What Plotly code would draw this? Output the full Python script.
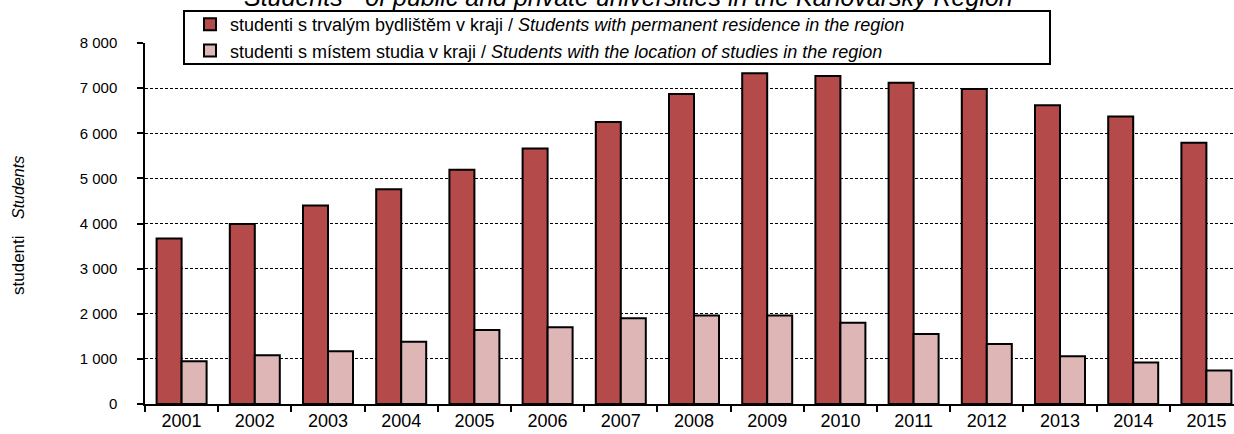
import plotly.graph_objects as go

# data
years = [str(y) for y in range(2001, 2016)]
residence = [3670, 3990, 4400, 4760, 5190, 5660, 6250, 6870, 7330, 7270, 7120, 6980, 6620, 6370, 5790]
study_place = [950, 1080, 1170, 1380, 1640, 1700, 1900, 1960, 1960, 1800, 1550, 1330, 1060, 920, 740]

y_ticks = [0, 1000, 2000, 3000, 4000, 5000, 6000, 7000, 8000]
y_ticktext = ["0", "1\u00a0000", "2\u00a0000", "3\u00a0000", "4\u00a0000",
              "5\u00a0000", "6\u00a0000", "7\u00a0000", "8\u00a0000"]

name_res = "studenti s trvalým bydlištěm v kraji / <i>Students with permanent residence in the region</i>"
name_study = "studenti s místem studia v kraji / <i>Students with the location of studies in the region</i>"
title_en = "<i>Students<sup>1)</sup> of public and private universities in the Karlovarský Region</i>"

FONT = "Arial, Liberation Sans, sans-serif"

fig = go.Figure()
fig.add_trace(go.Bar(
    x=years, y=residence, name=name_res,
    marker=dict(color="#B44A49", line=dict(color="black", width=2)),
))
fig.add_trace(go.Bar(
    x=years, y=study_place, name=name_study,
    marker=dict(color="#DFB6B6", line=dict(color="black", width=2)),
))

# plot area: x 145..1234 px, y 43..404 px (last category runs past the right edge)
plot_w = 1234 - 145
plot_h = 404 - 43
cat_w = 73.2


def px_x(p):
    return (p - 145) / plot_w


def px_y(p):
    return (404 - p) / plot_h


fig.update_layout(
    width=1234,
    height=434,
    margin=dict(l=145, r=0, t=43, b=30),
    paper_bgcolor="white",
    plot_bgcolor="white",
    barmode="group",
    bargap=0.317,
    bargroupgap=0,
    font=dict(family=FONT, size=15, color="black"),
    showlegend=True,
    legend=dict(
        x=px_x(190),
        y=px_y(6),
        xanchor="left",
        yanchor="top",
        bgcolor="rgba(0,0,0,0)",
        borderwidth=0,
        font=dict(family=FONT, size=18),
        tracegroupgap=0,
        traceorder="normal",
    ),
)

# legend frame (white box over the plot, as in the reference)
fig.add_shape(
    type="rect", xref="paper", yref="paper",
    x0=px_x(184), x1=px_x(1050), y0=px_y(64), y1=px_y(11),
    line=dict(color="black", width=2), fillcolor="white", layer="above",
)

fig.update_xaxes(
    type="category",
    range=[-0.5, -0.5 + plot_w / cat_w],
    tickson="boundaries",
    ticks="outside",
    ticklen=6,
    tickwidth=1.5,
    tickcolor="black",
    showline=True,
    linecolor="black",
    linewidth=1.5,
    showgrid=False,
    tickfont=dict(size=18),
)
fig.update_yaxes(
    range=[0, 8000],
    tickvals=y_ticks,
    ticktext=y_ticktext,
    ticks="outside",
    ticklen=6,
    tickwidth=1.5,
    tickcolor="black",
    ticklabelstandoff=17,
    showline=True,
    linecolor="black",
    linewidth=1.5,
    showgrid=True,
    gridcolor="black",
    gridwidth=1,
    griddash="3px,2px",
    zeroline=False,
    tickfont=dict(size=15),
)

# title line (partly cut at the top in the reference)
fig.add_annotation(
    text=title_en,
    xref="paper", yref="paper",
    x=px_x(628), y=px_y(13),
    xanchor="center", yanchor="bottom",
    showarrow=False,
    font=dict(family=FONT, size=25),
)

# rotated axis titles
fig.add_annotation(
    text="<i>Students</i>", xref="paper", yref="paper",
    x=px_x(18), y=px_y(188),
    xanchor="center", yanchor="middle", textangle=-90,
    showarrow=False, font=dict(family=FONT, size=16),
)
fig.add_annotation(
    text="studenti", xref="paper", yref="paper",
    x=px_x(18), y=px_y(265),
    xanchor="center", yanchor="middle", textangle=-90,
    showarrow=False, font=dict(family=FONT, size=17),
)

# drop the default 8px body margin so the figure fills the window
fig.write_html(
    "out.html",
    config={"displayModeBar": False},
    post_script="document.body.style.margin='0';",
)
